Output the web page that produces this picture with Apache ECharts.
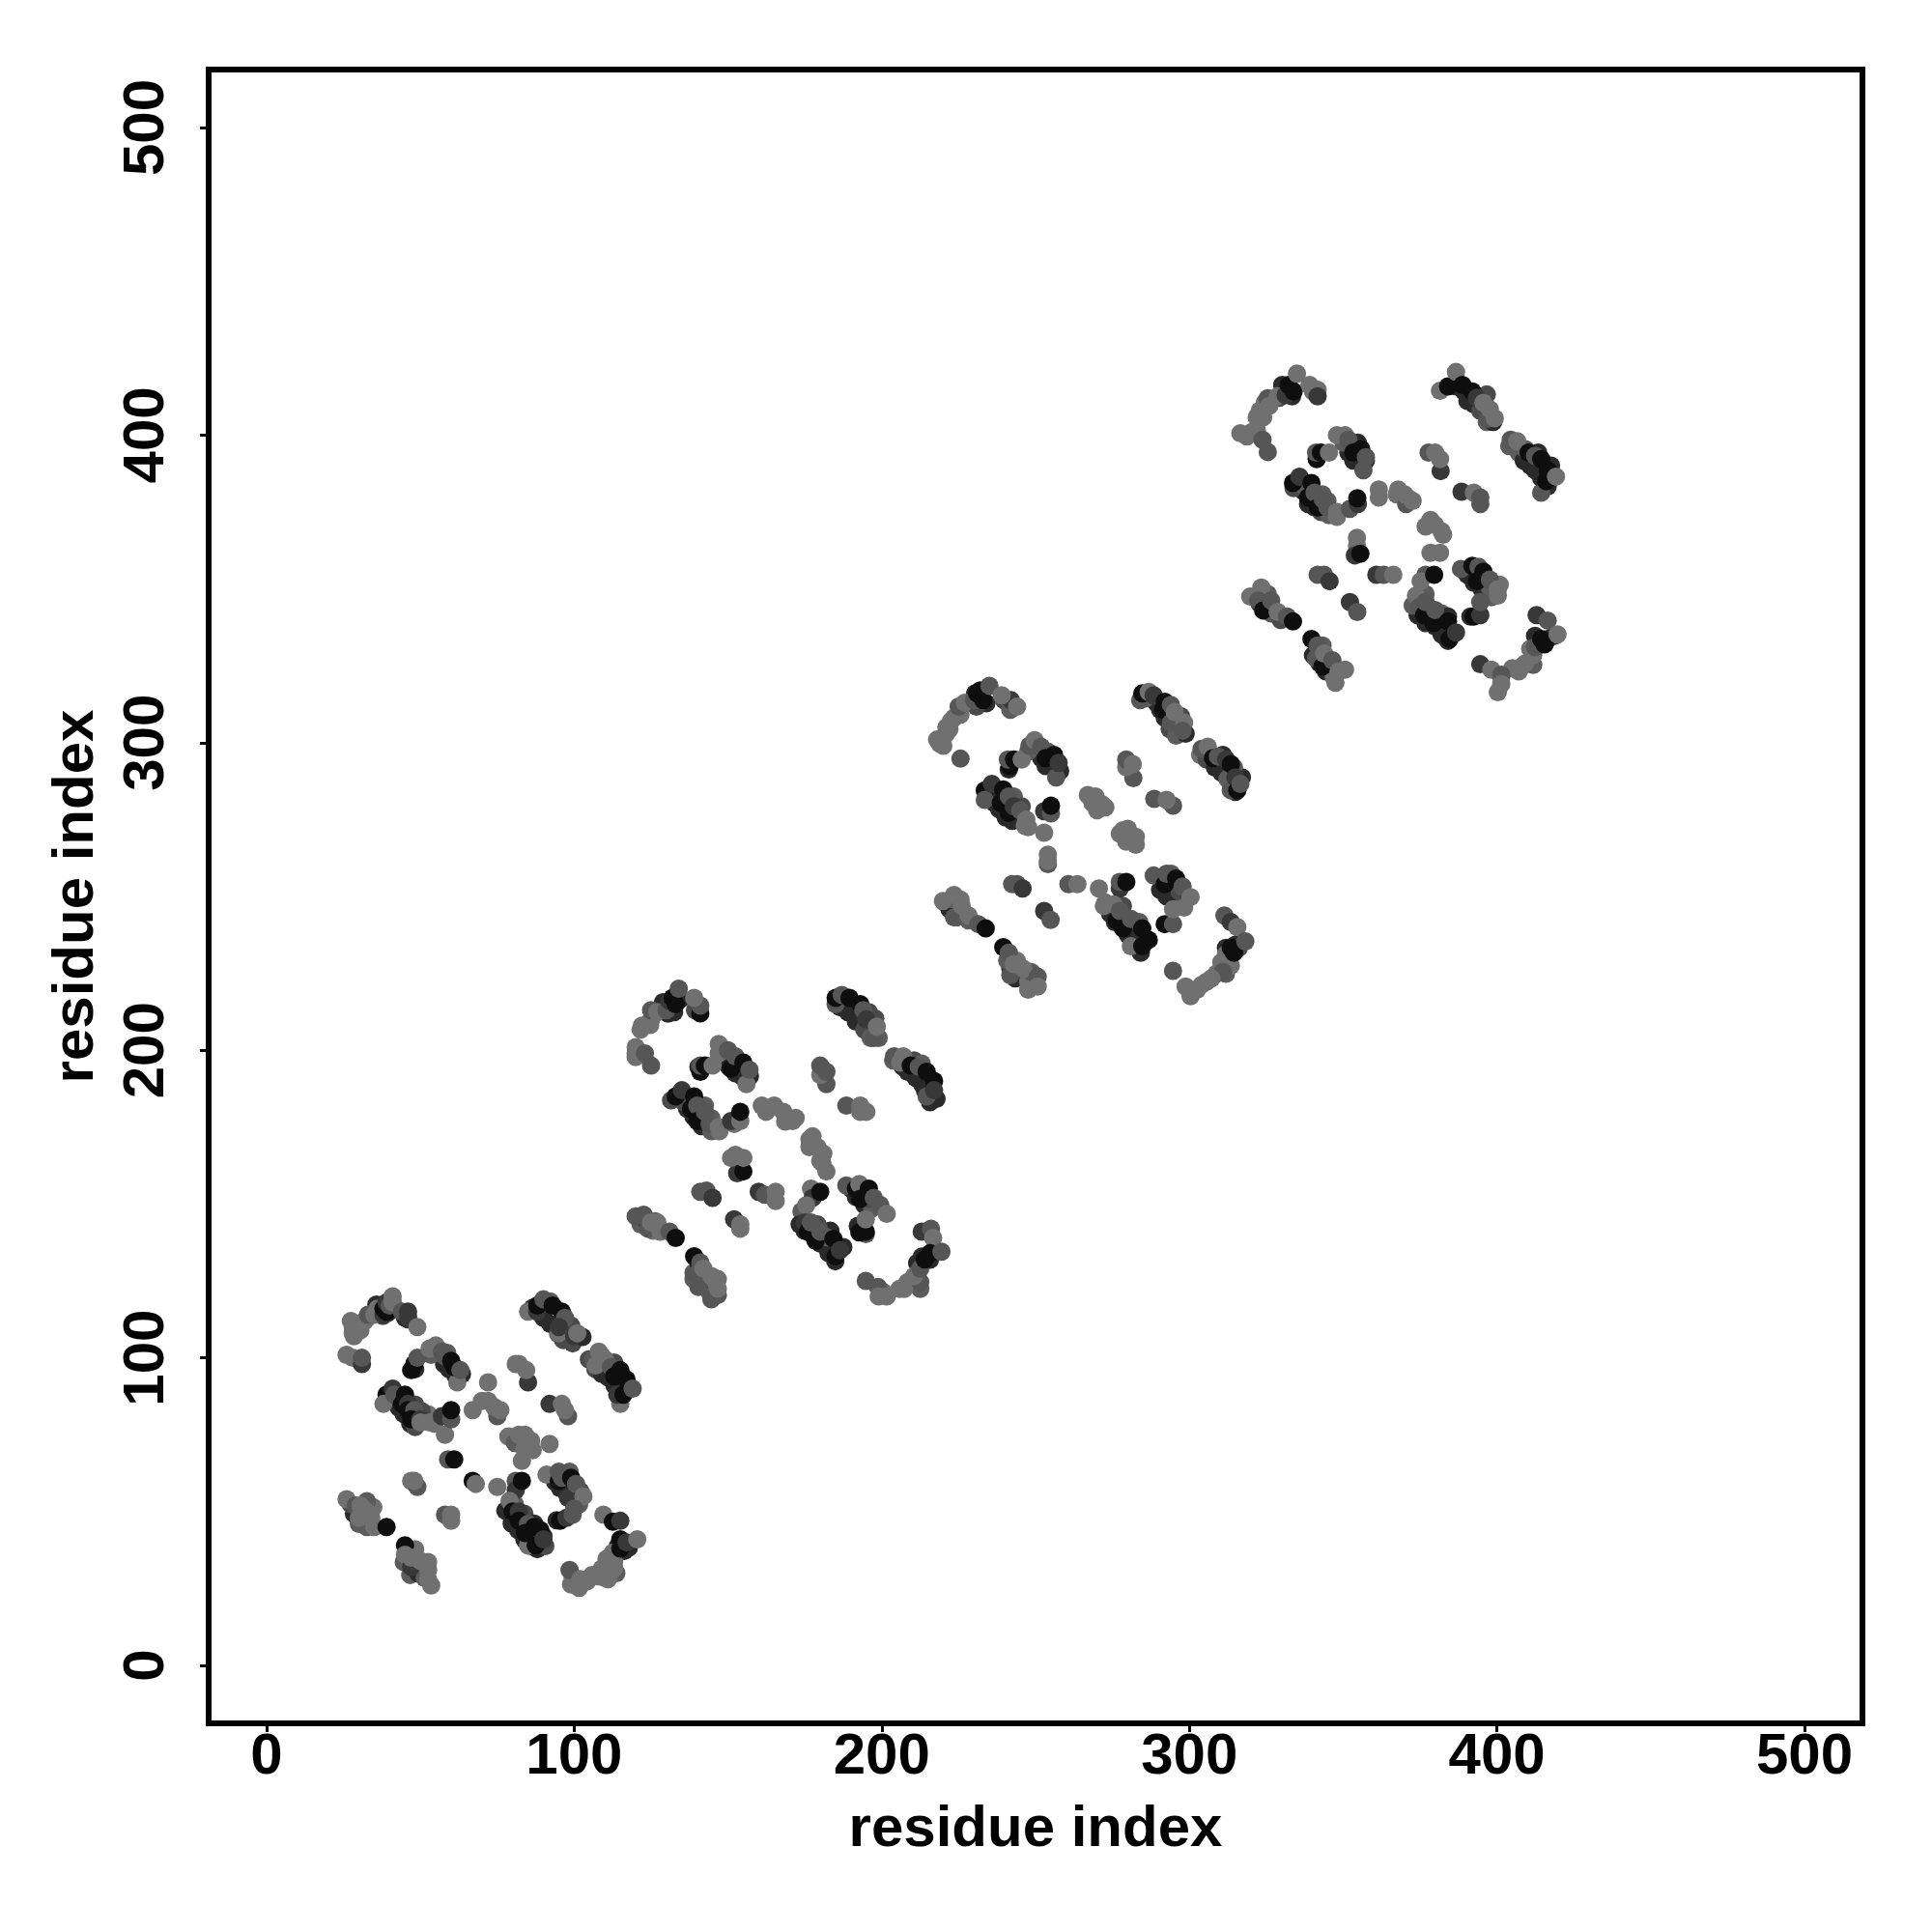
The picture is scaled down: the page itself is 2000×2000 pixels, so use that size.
<!DOCTYPE html>
<html><head><meta charset="utf-8">
<script src="https://cdn.jsdelivr.net/npm/echarts@6/dist/echarts.min.js"></script>
<style>html,body{margin:0;padding:0;background:#fff}#c{width:2000px;height:2000px}</style>
</head><body><div id="c"></div>
<script>
const L=0,M=1,D=2,K=3;
const tickValues=[0,100,200,300,400,500];
const axisTitle="residue index";
const domain1Under=[
[35.7,117.3,K],[39.4,114.6,K],[37.8,113.6,D],[32.6,113,M],[30.5,109,L],[27.4,112,L],[28.4,107,L],[45,113,K],[46,112.5,K],
[48.3,96.3,K],[57.7,98,K],[59.3,96.3,K],[61.4,94.2,K],[63.5,94.7,K],[56,102.6,M],[53.5,101,M],[58.7,101.6,M],
[40.4,87,D],[43,83.8,K],[44.6,81.7,K],[46.7,78.6,K],[48.3,77.5,D],[50.4,80.6,M],[52.5,81.7,L],[54.6,78.6,L],[48.3,84.8,D],[50.4,82.7,D],
[77.6,50.3,K],[79.7,46.1,K],[81.8,44,K],[83.8,41,K],[85.9,38.8,K],[88,37.8,K],[90.6,38.8,D],[83.8,49.3,D],[87,46.1,K],[90,42,K],[80.7,52.4,M],
[93.8,59.7,K],[95.4,57.6,K],[97.5,56,K],[99.5,53.5,D],[101.6,52.4,M],[98.5,63,M],[102,56.6,D],[94.3,47.2,K],
[86.5,116.2,K],[90,113,K],[92.2,111,K],[94.8,107.8,D],[96.4,105.8,D],[99.5,104.7,D],[102.7,106.8,K],[99,110.5,D],[92.2,118.3,M],
[104.8,99.5,D],[106.9,96.3,D],[109,94.8,K],[111,93.7,K],[113.1,91,K],[115.2,89.5,K],[109,100.5,M],[113,98.5,D],[117.3,91,K],
[28.4,49.3,K],[30,46,M],[27.4,52.4,D],[32.6,45,M],[34.7,51.4,L],[30.5,50.3,K],[32.6,53.4,M],
[44.6,33.6,M],[46.7,29.4,M],[49.3,29.9,K],[51.4,28.4,M],[48.3,37.8,L],[52.5,33.6,L],
[114.2,38.8,K],[113.1,36.7,K],[116.3,37.2,K],[117.8,38.3,K],[110.5,34.6,L],[109,31.5,L],[105.8,29.4,L],[110,28.4,L],[113.7,30,M],[99.5,28.4,L],[99,26.3,L],[101.6,25.2,L],[104.2,27.3,L],
[78.6,74.4,L],[80.7,72.3,M],[83.8,70.2,L],[86.5,70,L]
];
const domain1=[
[26,101,L],[28,100,L],[31,98,D],[31,100,M],[28,108,L],[28,110,L],[30,111,L],[32,112,L],[33,114,M],[35,114,L],[36,116,L],[38,114,D],[38,116,K],[39,115,K],[39,118,D],[40,117,M],[41,118,L],[41,120,L],[44,115,M],[46,115,D],[46,113,D],[49,110,L],
[62,92,L],[47,96,K],[48,98,K],[49,100,M],[53,103,L],[55,104,L],[57,102,M],[58,100.5,M],[60,99,K],[61,97,K],[63,96,M],
[39,88,K],[38,85,L],[41,90,D],[41.5,88,M],[45,88,K],[44,85,K],[46,85,D],[46,83,K],[48,83,M],[47,80,K],[50,80,D],[50,79,L],[53,79,L],[58,75,L],[57,81,D],[60,80,M],[60,83,K],
[72,92,L],[67,83,L],[75,81,M],[70,86,L],[72,86,L],[74,84,L],[76,83,L],[85,92,D],[81,98,L],[82,98,L],[84.4,96,L],[92,85,D],[98,81,M],[96,85,L],[97,83,L],
[83,66.5,L],[82,75,L],[84,75,L],[85,71,L],[86,73,L],[92,72,L],[59,67,M],[61,67,K],[67,60,K],[68,59,L],[75,58,L],[47,60,L],[49,58,M],[48,60,L],[58,49,M],[60,47,L],[60,49,L],
[85,115,L],[88,115,D],[88,117,K],[90,119,M],[93,117,K],[96,115,K],[97,113,M],[95,108,L],[95,110,D],[100,107,D],[101,108,L],
[106,99.5,M],[107,97.5,L],[108,102,L],[110,99.5,L],[112,97,M],[113,94,K],[115,96,K],[115,85,L],[114,88,D],[116,88,K],[117,93,K],[119,90,M],
[26,54,L],[29,52,M],[30,48,L],[30.5,52,L],[32.6,50,L],[34,48,L],[35,45,L],[39,45,K],[45,39,K],[45,36,L],[47,32,D],[47,35,L],[50,34,L],[52.5,28,L],[52.5,31,L],[53.5,26,L],
[81,60,M],[81,57,D],[83,60,K],[79,53.5,L],[80,50,K],[82,50,D],[82,47,K],[85,39,L],[85,46,M],[84,43,K],[87,45,K],[89,44,K],[87.5,39,K],[90,41,D],
[91,62,L],[95,60,K],[95,63,M],[96,61,M],[99,61,K],[98,54.5,D],[100.6,59,M],[103,55,L],[95.4,47,K],[97.5,48,D],[99.5,49,M],[100,51,M],
[109.5,49,L],[112.6,46.7,K],[115,47,D],[113,33.6,L],[113,31.5,L],[112.6,36.7,L],[115,38,K],[115,41,K],[117,40,D],[120.5,41,L],[98.5,31,M],[101,26,L],[102,28,L],[108,29,L],[111,28,L]
];
const domain2Under=[
[128.9,215.6,K],[130.5,211.9,K],[132.5,212.4,K],[134.6,216.6,K],[124.7,208.2,L],[121.6,206.7,L],[120,197.8,L],[139.3,213,D],
[150.3,194.6,K],[152.4,192.5,K],[154.5,191.5,K],[157.1,191.5,K],[152.9,196.7,M],[147.7,200.9,M],[140.4,194.6,K],
[136.7,181,K],[138.8,178.4,K],[141.4,175.3,K],[144.6,173.7,M],[147.2,173.7,L],[142.5,182,M],[144.6,177.9,M],[131.5,183.7,D],[135.7,183.1,D],
[173.9,147.6,M],[173.3,143.4,K],[174.9,141.3,K],[178,139.2,K],[180.1,137.1,K],[182.7,134,K],[184.9,131.4,K],[187.5,136,K],[183.3,141.3,K],[179.1,143.4,D],[182.2,139.2,M],
[190.1,154.9,K],[191.6,152.3,K],[194.3,149.7,K],[196.9,148.6,M],[195.8,151.7,D],[192.2,142.9,K],[194.8,140.2,M],
[186.4,214,K],[189,212.4,K],[191.6,209.3,K],[194.3,206.7,D],[196.4,204,M],[199,204,M],[197.9,210.3,D],[191.6,214.5,K],[195.8,212.4,D],
[203.7,196.7,M],[206.8,194.6,K],[208.4,193,K],[211,191,K],[213.1,188.9,K],[214.1,186.8,K],[215.7,183.1,K],[210.5,196.7,D],[217.8,184.2,K],[213,195.7,M],
[121.6,143.4,M],[126.3,144.4,M],[123.6,144.4,K],[125.7,141.3,L],
[138.8,127.7,M],[141.4,124.6,K],[144,121.4,M],[146.7,125.6,L],[138.8,125.6,M],[142.5,125.6,K],[140.4,130.8,K],
[211.5,130.8,K],[213,132.9,K],[215.7,131.9,K],[217.8,134.5,K],[210.5,125.6,M],[208.4,124.6,L],[205.8,122.4,L],[200.5,121.4,L],[212.5,122.4,M],
[179.1,168.5,L],[176.5,168.5,L],[180.7,163.3,L],[162.4,180,L],[168.6,176.8,L]
];
const domain2=[
[120,201,L],[120,199,L],[125,195,M],[123,199,M],[122,208,L],[125,210,L],[125,213,M],[127,212.4,L],[130,213,M],[131,216,D],[132,217,K],[133,215,K],[134,220,M],[141,212,K],[141,214.5,M],[139,217,L],
[156,189,L],[141,193,K],[141,195,M],[142.5,195,K],[145,195,L],[147,202,L],[147,199,L],[150,200,M],[151,194,K],[152.4,198,M],[155,196,K],[157,193.6,M],
[133,185,K],[135,187,D],[139,185,K],[138,181,K],[140,182,M],[140,177,K],[142.5,180,M],[144,176,M],[147,175,L],[152,176,L],[151,177,D],[154,177,L],[154,180,K],
[161,182,L],[165,182,L],[168,180,L],[171,177,L],[172,178,L],[177.5,172,L],[176.5,171,L],[182,160.6,L],[180,164,L],[181,166.4,L],
[182,189,M],[180,192,L],[180,195,M],[182,193,M],[188.5,182,M],[193,180,L],[193,182,L],[195,180,L],
[153,160,D],[155,160.6,K],[151,165,L],[152.4,166,L],[155,165,L],[141,154,M],[143,154.4,M],[145,152,D],[160,154,D],[162,153,M],[165.5,151,L],[165.5,154,L],[152,145,D],[154,142,L],[154,143.4,L],
[185,215,M],[185,217,K],[187,218,M],[189.5,217,K],[193,215,K],[194,213,M],[197.4,204,M],[195,210,D],[198.4,207.7,L],
[204,198,M],[206,196,L],[207,198,L],[209.4,195,K],[212,194.6,M],[214.6,193,K],[214.6,185,M],[217,190,K],[217,187,D],
[120,146,M],[122.6,146.5,M],[124,142,M],[125,144,L],[127,144,L],[128,141,L],[131,141,M],[133,139,K],[139,133,K],[139.4,127,M],[141,131,M],[140.4,123,M],[142,129,L],[144.6,119,M],[146.7,120.4,M],[144.6,126.6,L],[146,124.6,L],[146.7,122.5,L],
[177,155,L],[177.5,152,D],[180,154,K],[175.4,149.6,L],[175,144,D],[176,141,K],[177,144,M],[178.5,138,K],[180,141,M],[185,133,K],[184.3,138.7,K],[186.4,135,D],
[188.5,156,M],[191.6,155,K],[192.7,156.5,L],[193,151.7,K],[195.8,155,K],[197.4,152,M],[199.5,149.7,M],[201.6,146.8,L],[192.7,140.8,K],[194.8,141,K],[194.8,145,L],
[213,141,D],[216,142,M],[216.7,139,L],[207.3,122.4,L],[212.5,124.6,M],[210.5,126.6,L],[212.5,129,M],[214,132,K],[215.7,134,K],[219.4,134.5,M],[194.8,125,M],[198.8,123,M],[199,120,L],[201.6,120,L]
];
const domain3Under=[
[230.3,316,K],[232.4,312.8,K],[234,312.8,K],[230.8,311.7,D],[225.6,309.1,L],[222,304.4,L],[218.8,299.7,L],[223.5,308.1,L],[239.7,313.8,D],[241.8,310.7,M],
[251.8,295,K],[253.3,292.4,K],[256.5,291.3,K],[258,290.8,K],[247.6,297.1,M],[253.9,297.1,M],[241.3,291.3,K],
[236.6,280.4,K],[238.2,278.3,K],[240.3,275.7,K],[242.4,274.6,K],[246.5,273,L],[242.9,282.5,M],[245.5,279.3,D],[236.1,283,K],
[274.3,244.3,K],[275.8,241.7,K],[278.4,240.6,M],[280,237.5,K],[282.6,235.4,K],[284.2,231.7,K],[281.6,241.7,K],[283.7,241.7,M],[272.2,246.9,L],[278.4,246.9,D],
[290.5,252.1,K],[292.6,250,K],[295.2,248.5,K],[298.3,247.9,M],[296.8,251.6,D],[298.3,246.4,L],[294.1,257.4,M],
[290.5,310.7,K],[292,308.1,K],[293.6,304.4,D],[295.7,302.3,M],[298.8,302.9,K],[297.3,308.6,D],[289.4,312.8,K],[285.8,314.4,M],
[303.5,296,L],[305.6,294.5,D],[308.3,291.9,K],[310.4,290.3,K],[312.4,288.2,M],[313.5,286.1,M],[315,284,K],[317.1,288.7,K],[310.9,296,K],[314.5,291.9,M],
[220.4,248,M],[222,245.9,K],[224.6,243.2,M],[225.6,249,L],[228.2,242.2,M],[223.5,249,M],
[241.8,226.5,K],[243.4,223.4,K],[247.6,222.3,L],[248.6,225.4,M],[240.8,229.1,M],[243.9,229.1,L],
[311.9,233.3,K],[315,234.3,K],[316.1,233.3,D],[310.4,228.6,L],[308.8,224.9,L],[305.6,222.3,L],[302.5,219.7,L],[300.4,217.6,L],[311.9,224.9,M],
[277.4,270.4,L],[279.5,267.8,L],[268.5,280.4,L]
];
const domain3=[
[218,301,L],[220,299,L],[221,303,L],[221,305,L],[225.6,294.8,M],[222.5,307,L],[225,311.7,M],[227,313,L],[230,313.8,M],[231,316,K],[233,313.8,K],[232,317,K],[235,318.5,M],[242,313.8,D],[239,315.4,L],[244,311.7,L],
[256.7,288.7,M],[241.6,292.4,K],[241,294.5,M],[243,294.5,K],[245.5,294.5,L],[248,299,M],[249.7,300.8,L],[251.8,298.7,M],[253.3,295,K],[256,296,K],[257.5,293.4,D],
[233.5,284.5,K],[233.5,281.4,M],[235.8,286.6,D],[239.5,284.8,K],[238.7,280.4,K],[241.3,282.5,M],[241.3,277.2,K],[242.9,279.3,D],[245,278,M],[247,275,L],[247.6,272.5,L],[252.8,270.7,L],[252.8,277.7,D],[255,277,M],[255,279.5,K],
[267,283,L],[269.5,282.5,L],[270,278,L],[271.6,280,L],[272.7,279,L],[278.4,271.5,L],[280,272,L],[280.5,268.9,L],[282.6,266.8,L],[282.6,269.4,L],
[281.8,288.5,M],[279.5,292,L],[279.5,294.5,M],[281.6,293,L],[288.6,281.7,M],[294.7,279.5,M],[292.6,281.4,L],
[254,260.5,M],[254,261.5,L],[254,263.6,L],[242.4,254,M],[244,254,M],[245.8,252.6,D],[260.7,254,M],[263.6,254,L],[270.6,252.6,L],[252.8,245.3,D],[254.9,242.4,M],
[284,313.8,M],[284.7,316,K],[286.8,316.5,L],[288.4,315.4,D],[291.5,310.7,K],[292,313.3,K],[294,312.3,M],[294,306.5,M],[295.2,310,L],[298.3,306.5,L],[297.8,303.9,M],
[304,298,M],[306,298.7,L],[307.7,295,K],[309.3,295.5,M],[312,294.5,D],[313.5,293,K],[313.5,284.5,M],[315,288.7,D],[315.6,284.5,K],[316.6,286.6,M],
[219.9,248.5,L],[223.5,250.5,L],[223.5,243.2,M],[226,246.9,L],[228.2,243.8,L],[231.4,241,M],[233.8,239.6,K],[239.5,233.5,K],[241.3,231.7,M],[241.8,224.4,M],[242.9,228,L],[246,226.5,L],[247.6,219.7,L],[250.7,223.9,M],[250.7,220.7,L],
[277.4,252.6,D],[277.4,254.7,M],[279.5,254.7,K],[272.7,248,L],[275.3,247.4,L],[276.4,242.2,K],[277.4,245.3,M],[278.4,239.6,K],[281,233.8,L],[281,242.7,M],[284.7,239.6,K],[284.7,233.8,K],[286.8,235.9,K],
[288.4,256.8,M],[292,254,K],[292.6,257.4,M],[295.7,255.8,K],[297.8,253.2,M],[300.4,249.8,L],[292,241,K],[294.7,241,M],[294.7,245.8,L],
[311.4,243.8,M],[313.5,241.7,D],[315.6,240,L],[313.5,227.5,L],[311.9,231.2,L],[313.5,233.3,K],[314.5,231.7,K],[318.2,235.4,M],[310.9,225.4,M],[307.2,223.4,L],[304,221.3,L],[300.4,218.6,L],[298.8,220.7,L],[294.7,225.8,M]
];
const domain4Under=[
[330.2,416.3,K],[331.3,413.7,K],[333.4,412.6,K],[329.2,412.1,D],[324.5,410.5,L],[321.9,405.8,L],[324,405.8,L],[318.7,399.6,L],[340.2,414.2,L],
[351.7,394.3,K],[353.3,391.7,K],[355.9,391.2,K],[357.4,391.7,K],[350.1,397.5,M],[354.8,397.5,K],
[337,381.8,K],[338.6,377.6,K],[340.7,376.5,K],[342.8,375,D],[345.4,374,M],[343.3,380.7,M],[333.9,382.8,D],[336.5,383.9,M],[344.9,378.6,M],
[373.1,344.6,D],[374.2,341.5,K],[376.8,338.9,K],[379.9,337.8,K],[382,335.2,K],[384.1,333.1,K],[382,342,M],[384.1,341,K],[376.8,348.3,M],[372.6,344.6,M],
[390.4,354.6,K],[392.5,352,K],[395.1,349.9,K],[398.2,347.3,M],[397.7,350.4,M],[400.9,351.4,L],[391.4,341,K],
[386.7,415.8,K],[389.3,414.2,K],[390.4,411.1,K],[392.5,410,K],[394.6,407.9,D],[396.7,404.3,M],[398.8,404.3,K],[396.7,413.2,D],
[404,396.4,M],[407.1,394.3,M],[408.7,391.7,K],[410.8,390.1,K],[412.4,388.6,K],[414.4,386,K],[416.5,383.3,K],[413.4,394.3,K],[417.6,390.1,K],[409.2,395.4,M],
[321.4,347.3,K],[322.9,345.2,K],[325,344.1,M],[326.6,342,M],[329.7,339.9,D],[325.5,348.3,M],
[340.2,328.4,K],[342.3,325.8,K],[344.4,323.2,K],[346.5,323.2,M],[347,321.1,L],[343.3,331.6,M],
[412.4,334.7,K],[413.4,331.6,K],[416.5,333.7,K],[418.6,334.7,K],[410.8,330.5,L],[408.2,324.8,L],[411.8,325.3,M],[405,324.2,L],[401.4,321.1,L],
[379.9,370.8,L],[376.8,370.3,L],[371.6,379.2,L],[367.4,380.7,L]
];
const domain4=[
[316.6,400.6,L],[320.3,401,L],[321.9,401.6,L],[325.5,394.5,M],[323.8,398.5,M],[322.9,408,L],[325.5,412,M],[326,409.5,L],[328.7,412.6,L],[331.3,413,D],[332.3,416.3,K],[333.9,414.2,K],[335,420,L],[339.1,416.3,L],[341.7,414.7,L],[341.7,412.6,D],
[356.6,388.6,M],[341.4,392.2,K],[341.2,394.3,M],[342.8,394.3,K],[345.4,394.3,L],[348,400,L],[350.6,400,L],[351.7,398.5,M],[353.3,394.3,K],[355.9,395.4,K],[357.4,392.8,M],
[333.7,384.4,K],[335.8,386.5,D],[339.7,384.4,K],[338.6,379.7,K],[340.7,381.3,M],[341.8,376.5,K],[343.3,379.2,M],[344.9,376.5,M],[348,373.4,L],[348,375,L],[352.2,376,M],[354.8,377.6,D],[354.6,379.5,K],
[361.6,379.7,L],[361.6,382.3,L],[370.5,377.6,M],[367.9,382.3,L],[370,380.7,L],[372.6,378.6,L],[378.4,372.4,L],[377.8,370.8,L],[382.5,367.6,L],[382,368.7,L],[378.4,361.7,L],[381.5,361.7,L],
[381.7,388.3,D],[377.8,394.3,M],[379.9,394.3,L],[381.5,392.2,L],[388.5,381.6,D],[394.6,377.6,M],[392.5,381.3,L],[394.6,379.7,M],
[354.5,366.6,L],[354.5,364,L],[353.8,360.9,D],[355.6,361.4,K],[341.7,354.6,M],[343.8,354.6,M],[345.6,352.5,D],[360.8,354.6,D],[363.2,354.6,M],[366.3,354.6,L],[352.2,345.7,D],[354.6,342.5,M],
[381.5,414.4,L],[384.1,415.8,K],[386.7,420.5,L],[388.8,416.3,K],[392,414.2,K],[393.5,412.1,D],[397.2,405.3,M],[395.6,410.5,L],[397.7,408.4,L],[399.3,405.5,L],
[404.5,398.5,M],[406.6,398,L],[410.3,394.3,K],[412.4,393.3,M],[414.4,381.3,M],[414.4,392.2,K],[416.5,388.6,K],[416,385,K],[419.2,386.5,L],
[319.8,347.5,L],[323.4,350.4,L],[322.4,346.2,M],[324,343,K],[326.6,346.2,M],[328.7,342.5,L],[331.8,341,M],[333.7,339.4,K],[339.7,333.7,K],[341.7,331.6,M],[341.2,327.4,M],[343.3,324.8,K],[343.8,329,L],[346.5,326.8,M],[347.5,319.5,L],[348.5,323.2,L],[350.6,323.7,L],
[376.8,354.6,M],[375.2,352.5,L],[379.6,354.6,K],[373.7,347.8,L],[374.7,344.1,M],[376.3,341.5,K],[376.8,345.7,M],[379.4,338.9,K],[379.9,343.1,M],[384.1,339.4,K],[384.6,333.7,K],[386.7,335.8,D],
[388.3,356.5,M],[392,357.5,K],[394,357.2,M],[393.5,352.5,K],[395.6,355.6,K],[397.7,353,M],[400.3,347.8,L],[400.3,349.9,L],[392.5,341,K],[394.6,341.5,D],[394.6,345.7,M],
[412.9,341.5,D],[416.5,339.7,M],[407.1,323.2,L],[409.2,325.8,L],[411.8,328.4,L],[412.4,331,M],[414.4,333.7,K],[415.5,332,K],[419.7,335.2,L],[394.6,325.5,D],[398.2,323.7,L],[401.4,322.1,M],[400.3,316.4,L],[401.4,319,L]
];
const grayLevels=['#707070','#565656','#383838','#0e0e0e'];
const underGrayLevels=['#707070','#5c5c5c','#4a4a4a','#2a2a2a'];
const font='"Liberation Sans"';
const mkAxis=(min,max,extra)=>Object.assign({
  type:'value',min:min,max:max,name:axisTitle,nameLocation:'middle',nameMoveOverlap:false,
  nameTextStyle:{fontFamily:font,fontWeight:'bold',fontSize:60,color:'#000'},
  splitLine:{show:false},axisLine:{show:false,onZero:false},
  axisTick:{show:true,customValues:tickValues,length:9,lineStyle:{color:'#000',width:3}},
},extra);
const mkSeries=(d,palette)=>({
  type:'scatter',data:d,symbol:'circle',symbolSize:19,clip:false,silent:true,
  encode:{x:0,y:1},
  itemStyle:{opacity:1,color:p=>palette[p.value[2]]}
});
const series=[
  mkSeries(domain1Under,underGrayLevels),mkSeries(domain1,grayLevels),
  mkSeries(domain2Under,underGrayLevels),mkSeries(domain2,grayLevels),
  mkSeries(domain3Under,underGrayLevels),mkSeries(domain3,grayLevels),
  mkSeries(domain4Under,underGrayLevels),mkSeries(domain4,grayLevels)
];
const chart=echarts.init(document.getElementById('c'),null,{renderer:'canvas'});
chart.setOption({
  animation:false,backgroundColor:'#fff',
  grid:{left:216,right:72,top:72,bottom:216,show:true,borderColor:'#000',borderWidth:6,backgroundColor:'transparent'},
  xAxis:mkAxis(-18.84,518.84,{nameGap:80,axisLabel:{customValues:tickValues,margin:5,fontFamily:font,fontWeight:'bold',fontSize:60,color:'#000'}}),
  yAxis:mkAxis(-18.84,518.84,{nameGap:107,nameRotate:90,axisLabel:{customValues:tickValues,margin:64,rotate:90,align:'center',verticalAlign:'middle',fontFamily:font,fontWeight:'bold',fontSize:60,color:'#000'}}),
  series:series
});
</script></body></html>
